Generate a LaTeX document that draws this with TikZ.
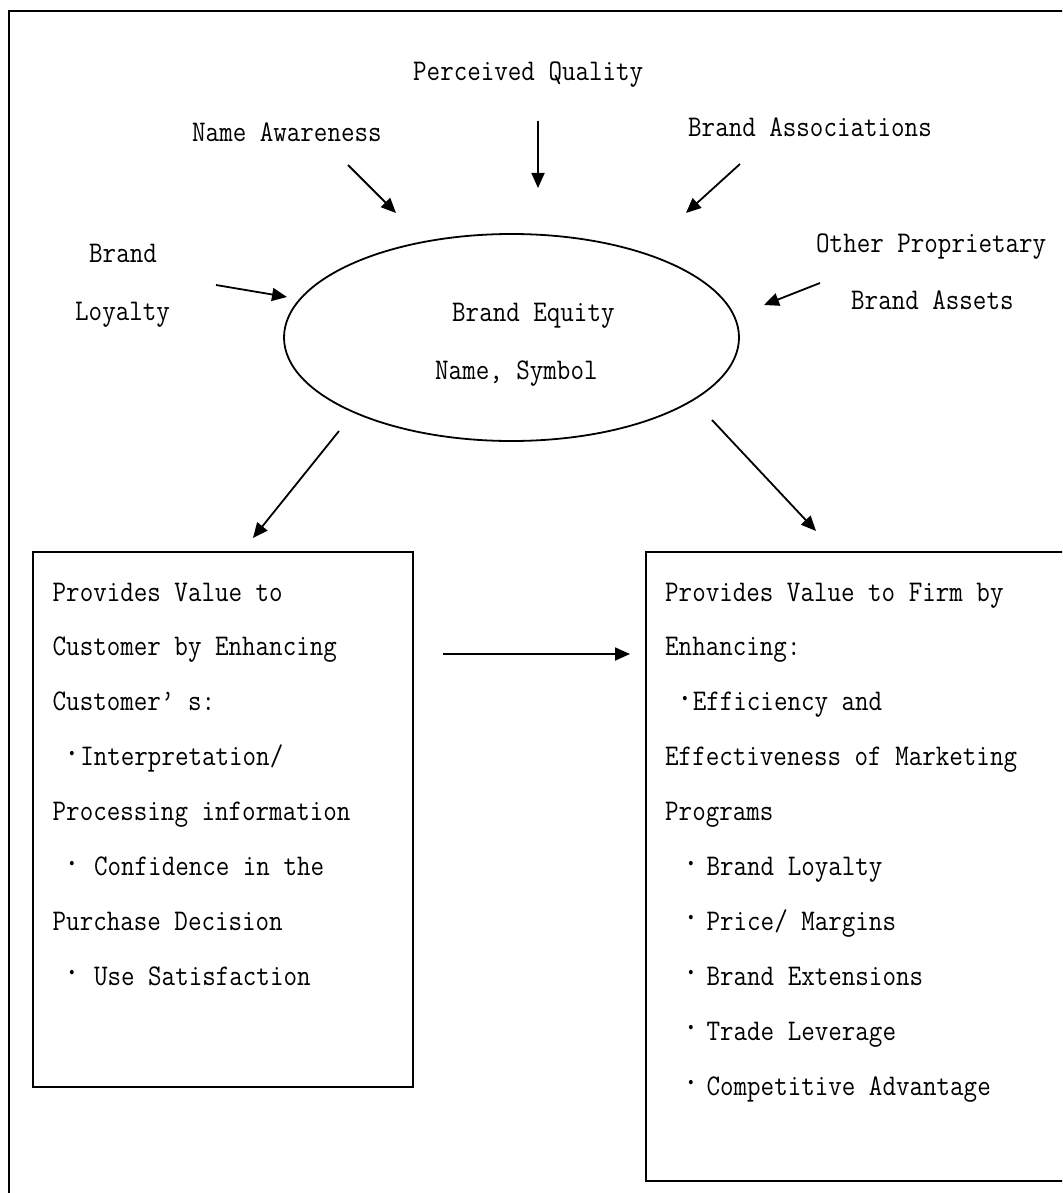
\documentclass[tikz,border=0pt]{standalone}
\usepackage{fontspec}
\setmonofont{Latin Modern Mono}[FakeStretch=0.876]
\usetikzlibrary{arrows.meta,shapes.geometric}
% character cell width of the typewriter face at the size used
\newlength\chw
\setlength\chw{13.8pt}
% bullet: dot centred at #1 cells, text starting at #2 cells
\newcommand\bl[2]{\rlap{\hspace*{#1\chw}\makebox[0pt]{\raisebox{0.5pt}{\scalebox{1.3}{·}}}}\hspace*{#2\chw}}
% stacked lines with a fixed baseline distance, baseline at the first line
\newcommand\stack[1]{\vtop{\baselineskip=54.9pt\lineskiplimit=-100pt\lineskip=0pt #1}}
\begin{document}
\begin{tikzpicture}[x=1pt,y=-1pt,
  lbl/.style={anchor=base west,inner sep=0pt,font=\ttfamily\fontsize{30}{54.9}\selectfont},
  frame/.style={line width=2pt},
  arr/.style={line width=1.8pt,-{Triangle[length=15pt,width=13pt]}}]
\useasboundingbox (0,0) rectangle (1062,1193);
\clip (0,0) rectangle (1062,1193);
% outer frame (runs past the page on the right and bottom)
\draw[frame] (9,11) rectangle (1080,1210);

% central ellipse
\node[ellipse,draw,line width=1.8pt,minimum width=455pt,minimum height=207pt,inner sep=0pt] (eq) at (511.5,337.5) {};
\node[lbl] (eqa) at (452,321) {Brand Equity};
\node[lbl] (eqb) at (435,379) {Name, Symbol};

% contributing assets
\node[lbl] (pq) at (413,81) {Perceived Quality};
\node[lbl] (na) at (192,142) {Name Awareness};
\node[lbl] (ba) at (688,137) {Brand Associations};
\node[lbl] (bl1) at (89,262) {Brand};
\node[lbl] (bl2) at (75,320) {Loyalty};
\node[lbl] (op1) at (816,252) {Other Proprietary};
\node[lbl] (op2) at (851,309) {Brand Assets};

% arrow end points
\coordinate (pqs) at (538,121);  \coordinate (pqe) at (538,188);
\coordinate (nas) at (348,165);  \coordinate (nae) at (396,213);
\coordinate (bas) at (740,164);  \coordinate (bae) at (686,213);
\coordinate (bls) at (216,285);  \coordinate (ble) at (287,297);
\coordinate (ops) at (820,283);  \coordinate (ope) at (764,305);
\coordinate (dls) at (339,431);  \coordinate (dle) at (253,538);
\coordinate (drs) at (712,420);  \coordinate (dre) at (816,531);
\coordinate (hs) at (443,654);   \coordinate (he) at (630,654);

\draw[arr] (pqs) -- (pqe);
\draw[arr] (nas) -- (nae);
\draw[arr] (bas) -- (bae);
\draw[arr] (bls) -- (ble);
\draw[arr] (ops) -- (ope);
\draw[arr] (dls) -- (dle);
\draw[arr] (drs) -- (dre);
\draw[arr] (hs) -- (he);

% customer value box
\node[draw,frame,anchor=north west,inner sep=0pt,minimum width=380pt,minimum height=535pt] (cust) at (32.3,551) {};
\node[lbl] (custtxt) at (52.5,601) {\stack{%
  \hbox{Provides Value to}
  \hbox{Customer by Enhancing}
  \hbox{Customer’ s:}
  \hbox{\bl{1.45}{2}Interpretation/}
  \hbox{Processing information}
  \hbox{\bl{1.4}{3}Confidence in the}
  \hbox{Purchase Decision}
  \hbox{\bl{1.4}{3}Use Satisfaction}}};

% firm value box
\node[draw,frame,anchor=north west,inner sep=0pt,minimum width=440pt,minimum height=629pt] (firm) at (645,551) {};
\node[lbl] (firmtxt) at (665,601) {\stack{%
  \hbox{Provides Value to Firm by}
  \hbox{Enhancing:}
  \hbox{\bl{1.45}{2}Efficiency and}
  \hbox{Effectiveness of Marketing}
  \hbox{Programs}
  \hbox{\bl{1.9}{3}Brand Loyalty}
  \hbox{\bl{1.9}{3}Price/ Margins}
  \hbox{\bl{1.9}{3}Brand Extensions}
  \hbox{\bl{1.9}{3}Trade Leverage}
  \hbox{\bl{1.9}{3}Competitive Advantage}}};
\end{tikzpicture}
\end{document}
